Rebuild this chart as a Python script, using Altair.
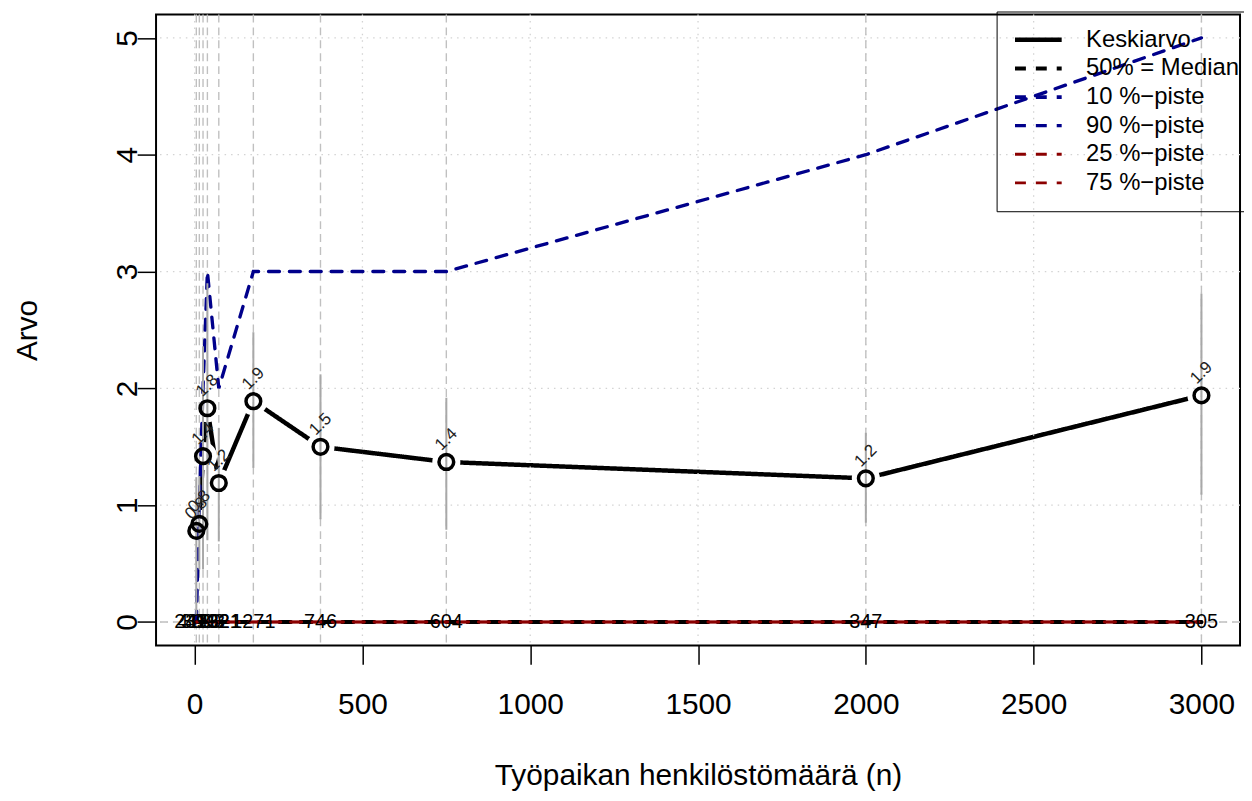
import altair as alt
import pandas as pd

# ---- data ----
size_x = [5, 14, 25, 38, 72, 175, 375, 750, 2000, 3000]
mean_vals = [0.78, 0.84, 1.42, 1.83, 1.19, 1.89, 1.50, 1.37, 1.23, 1.94]
mean_labels = ["0.8", "0.8", "1.4", "1.8", "1.2", "1.9", "1.5", "1.4", "1.2", "1.9"]
whisker_lo = [0.06, 0.45, 0.45, 0.70, 0.69, 1.32, 0.88, 0.79, 0.85, 1.09]
whisker_hi = [1.24, 1.25, 2.36, 2.90, 1.66, 2.48, 2.12, 1.92, 1.62, 2.81]
median = [0, 0, 0, 0, 0, 0, 0, 0, 0, 0]
p10 = [0, 0, 0, 0, 0, 0, 0, 0, 0, 0]
p90 = [0, 1, 2, 3, 2, 3, 3, 3, 4, 5]
p25 = [0, 0, 0, 0, 0, 0, 0, 0, 0, 0]
p75 = [0, 0, 0, 0, 0, 0, 0, 0, 0, 0]
n_labels = ["2479", "4180", "3093", "3932", "1321", "1271", "746", "604", "347", "305"]
grid_x = [0, 500, 1000, 1500, 2000, 2500, 3000]
grid_y = [0, 1, 2, 3, 4, 5]
series_names = ["Keskiarvo", "50% = Median", "10 %\u2212piste", "90 %\u2212piste",
                "25 %\u2212piste", "75 %\u2212piste"]
series_colors = ["black", "black", "#00008B", "#00008B", "#8B0000", "#8B0000"]
series_dash = [[1, 0], [11, 10], [11, 10], [11, 10], [11, 10], [11, 10]]
series_width = [4.5, 2.6, 2.6, 2.6, 2.6, 2.6]

FONT = "Liberation Sans"

# ---- tables ----
pts = pd.DataFrame({"x": size_x, "y": mean_vals, "lab": mean_labels,
                    "lo": whisker_lo, "hi": whisker_hi, "n": n_labels,
                    "zero": median})

def long(series_list):
    rows = []
    lookup = {series_names[0]: mean_vals, series_names[1]: median,
              series_names[2]: p10, series_names[3]: p90,
              series_names[4]: p25, series_names[5]: p75}
    for s in series_list:
        for xv, yv in zip(size_x, lookup[s]):
            rows.append({"series": s, "x": xv, "y": yv})
    return pd.DataFrame(rows)

X_SCALE = alt.Scale(domain=[-115, 3115], nice=False, zero=False)
Y_SCALE = alt.Scale(domain=[-0.2, 5.2], nice=False, zero=False)

X_AXIS = alt.Axis(values=grid_x, format="d", grid=False, domain=False,
                  tickSize=19, tickWidth=1.5, tickColor="black",
                  labelFontSize=30, labelFont=FONT, labelColor="black",
                  labelBaseline="alphabetic", labelPadding=50,
                  labelFlush=False, labelOverlap=False,
                  title="Työpaikan henkilöstömäärä (n)", titleFont=FONT,
                  titleFontSize=30, titleFontWeight="normal", titleColor="black",
                  titleBaseline="alphabetic", titleY=140)
Y_AXIS = alt.Axis(values=grid_y, format="d", grid=False, domain=False,
                  tickSize=19, tickWidth=1.5, tickColor="black",
                  labelFontSize=30, labelFont=FONT, labelColor="black",
                  labelAngle=270, labelAlign="center", labelBaseline="alphabetic",
                  labelPadding=1, labelFlush=False, labelOverlap=False,
                  title="Arvo", titleFont=FONT, titleFontSize=30,
                  titleFontWeight="normal", titleColor="black",
                  titleAngle=270, titleAlign="center", titleBaseline="alphabetic",
                  titleX=-120, titleY=317.5)

def X(field):
    return alt.X(f"{field}:Q", scale=X_SCALE, axis=X_AXIS)

def Y(field):
    return alt.Y(f"{field}:Q", scale=Y_SCALE, axis=Y_AXIS)

LEGEND = alt.Legend(orient="none", legendX=846, legendY=-3, title=None, symbolType="stroke",
                    symbolSize=2209, clipHeight=25, rowPadding=3.8, padding=16,
                    labelFontSize=24, labelFont=FONT, labelColor="black",
                    labelOffset=22, labelLimit=400, strokeColor="black")

def series_enc():
    return dict(
        color=alt.Color("series:N", scale=alt.Scale(domain=series_names, range=series_colors),
                        legend=LEGEND),
        strokeDash=alt.StrokeDash("series:N", scale=alt.Scale(domain=series_names, range=series_dash),
                                  legend=LEGEND),
        strokeWidth=alt.StrokeWidth("series:N", scale=alt.Scale(domain=series_names, range=series_width),
                                    legend=LEGEND),
    )

# ---- layers ----
gy = pd.DataFrame({"gy": grid_y})
gx = pd.DataFrame({"gx": grid_x})

mean_line = alt.Chart(long([series_names[0]])).mark_line(
    strokeCap="round", strokeJoin="round").encode(x=X("x"), y=Y("y"), **series_enc())

gap = alt.Chart(pts).mark_point(shape="circle", filled=True, size=800,
                                color="white", opacity=1).encode(x=X("x"), y=Y("y"))

grid_h = alt.Chart(gy).mark_rule(color="#D3D3D3", strokeDash=[1.5, 5], strokeWidth=1.3).encode(y=Y("gy"))
grid_v = alt.Chart(gx).mark_rule(color="#D3D3D3", strokeDash=[1.5, 5], strokeWidth=1.3).encode(x=X("gx"))
vlines = alt.Chart(pts).mark_rule(color="#C0C0C0", strokeDash=[8, 5], strokeWidth=1.4).encode(x=X("x"))
hline0 = alt.Chart(pts.head(1)).mark_rule(color="#C0C0C0", strokeDash=[8, 5], strokeWidth=1.4).encode(y=Y("zero"))

blue_lines = alt.Chart(long([series_names[2], series_names[3]])).mark_line(
    strokeCap="round").encode(x=X("x"), y=Y("y"), **series_enc())
med_line = alt.Chart(long([series_names[1]])).mark_line(
    strokeCap="round").encode(x=X("x"), y=Y("y"), **series_enc())
red_lines = alt.Chart(long([series_names[4], series_names[5]])).mark_line(
    strokeCap="round", strokeDashOffset=10).encode(x=X("x"), y=Y("y"), **series_enc())

whisk = alt.Chart(pts).mark_rule(color="#A8A8A8", strokeWidth=2).encode(
    x=X("x"), y=Y("lo"), y2="hi:Q")

circles = alt.Chart(pts).mark_point(shape="circle", filled=False, size=220,
                                    strokeWidth=3.5, color="black", opacity=1).encode(
    x=X("x"), y=Y("y"))

mean_txt = alt.Chart(pts).mark_text(angle=315, dx=16, dy=-16, fontSize=17, font=FONT,
                                    align="center", baseline="middle", color="#222222").encode(
    x=X("x"), y=Y("y"), text="lab:N")

n_txt = alt.Chart(pts).mark_text(fontSize=20, font=FONT, align="center",
                                 baseline="middle", color="black").encode(
    x=X("x"), y=Y("zero"), text="n:N")

chart = alt.layer(
    mean_line, gap, grid_h, grid_v, vlines, hline0,
    blue_lines, med_line, red_lines, whisk, circles, mean_txt, n_txt
).properties(
    width=1091, height=635,
    autosize=alt.AutoSizeParams(type="none"),
    padding={"left": 149, "top": 4, "right": 4, "bottom": 146},
).configure(
    background="white",
    view=alt.ViewConfig(stroke="black", strokeWidth=2),
)

chart.save("out.html", embed_options={"renderer": "svg", "actions": False})
